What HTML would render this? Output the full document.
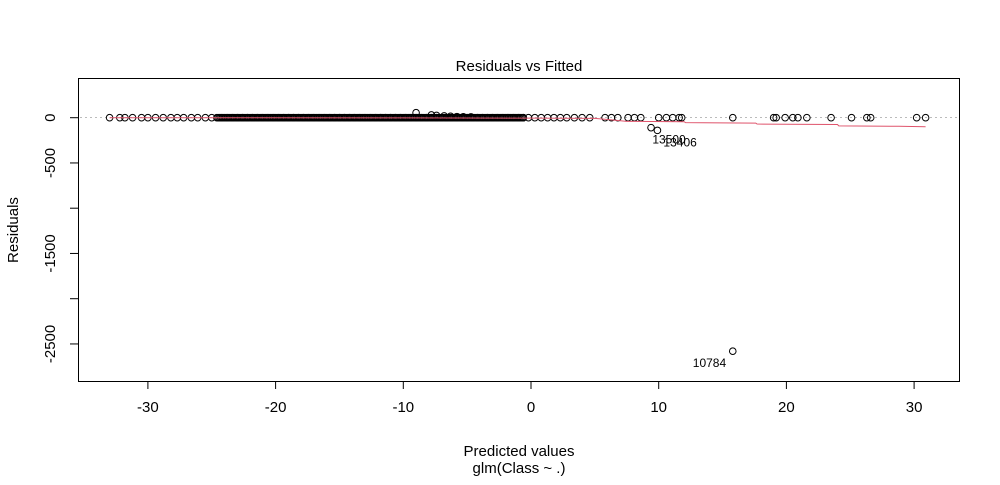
<!DOCTYPE html>
<html><head><meta charset="utf-8"><style>
body{margin:0;background:#fff}
svg text{font-family:"Liberation Sans",Arial,sans-serif;fill:#000}
</style></head><body>
<svg id="chart" width="1000" height="480" viewBox="0 0 1000 480" xmlns="http://www.w3.org/2000/svg">
<rect width="1000" height="480" fill="#fff"/>
<text x="519" y="71" font-size="15" text-anchor="middle">Residuals vs Fitted</text>
<line x1="80" y1="117.5" x2="960" y2="117.5" stroke="#bbb" stroke-dasharray="2,3"/>
<g id="pts"></g>
<g id="smooth"></g>
<g id="labs"></g>
<rect x="78.5" y="78.5" width="881" height="303" fill="none" stroke="#000"/>
<g id="xaxis"></g>
<g id="yaxis"></g>
<text x="519" y="456" font-size="15" text-anchor="middle">Predicted values</text>
<text x="519" y="473" font-size="15" text-anchor="middle">glm(Class ~ .)</text>
<text x="0" y="0" font-size="15" text-anchor="middle" transform="translate(18,230) rotate(-90)">Residuals</text>
</svg>
<script>
const fittedX = [-33,-32.2,-31.8,-31.2,-30.5,-30,-29.4,-28.8,-28.2,-27.7,-27.2,-26.6,-26.1,-25.5,-25,-24.6,-24.2,-23.8,-23.4,-23,-22.6,-22.2,-21.8,-21.4,-21,-20.6,-20.2,-19.8,-19.4,-19,-18.6,-18.2,-17.8,-17.4,-17,-16.6,-16.2,-15.8,-15.4,-15,-14.6,-14.2,-13.8,-13.4,-13,-12.6,-12.2,-11.8,-11.4,-11,-10.6,-10.2,-9.8,-9.4,-9,-8.6,-8.2,-7.8,-7.4,-7,-6.6,-6.2,-5.8,-5.4,-5,-4.6,-4.2,-3.8,-3.4,-3,-2.6,-2.2,-1.8,-1.4,-1,-0.6,-0.2,0.3,0.8,1.3,1.8,2.3,2.8,3.4,4,4.6,5.8,6.3,6.8,7.6,8.1,8.6,10,10.6,11.1,11.6,11.8,15.8,19,19.2,19.9,20.5,20.9,21.6,23.5,25.1,26.3,26.6,30.2,30.9,-9,-7.8,-7.4,-6.8,-6.3,-5.8,-5.3,-4.7,9.4,9.9,15.8];
const residY = [0,0,0,0,0,0,0,0,0,0,0,0,0,0,0,0,0,0,0,0,0,0,0,0,0,0,0,0,0,0,0,0,0,0,0,0,0,0,0,0,0,0,0,0,0,0,0,0,0,0,0,0,0,0,0,0,0,0,0,0,0,0,0,0,0,0,0,0,0,0,0,0,0,0,0,0,0,0,0,0,0,0,0,0,0,0,0,0,0,0,0,0,0,0,0,0,0,0,0,0,0,0,0,0,0,0,0,0,0,0,55,30,25,20,15,12,10,8,-110,-140,-2580];
const smoothX = [-33,-10,0,5,6,7.5,12,12.1,17.6,17.7,24,24.1,28.8,30.9];
const smoothY = [0,-2,-5,-8,-20,-40,-45,-55,-60,-70,-75,-90,-95,-100];
const labelText = ["13500","13406","10784"];
const labelX = [9.5,9.9,15.8];
const labelY = [-110,-140,-2580];
const xTicks = [-30,-20,-10,0,10,20,30];
const yTicks = [0,-500,-1000,-1500,-2000,-2500];
const yLabels = ["0","-500","","-1500","","-2500"];

const sx = v => 531 + v*12.77;
const sy = v => 117.7 - v*0.0905;
const NS = "http://www.w3.org/2000/svg";
function mk(tag, parent, attrs){const e=document.createElementNS(NS,tag);for(const k in attrs)e.setAttribute(k,attrs[k]);parent.appendChild(e);return e;}

const pts=document.getElementById('pts');
fittedX.forEach((x,i)=>{
  const c=mk('circle',pts,{cx:sx(x),cy:sy(residY[i]),r:3.3,fill:'none',stroke:'#000','stroke-width':1});
  
  
});
for(let x=-24.5;x<=-0.5;x+=0.1){
  const c=mk('circle',pts,{cx:sx(x),cy:sy(0),r:3.3,fill:'none',stroke:'#000','stroke-width':1});
  
  
}
const sm=document.getElementById('smooth');
const pl=mk('polyline',sm,{points:smoothX.map((x,i)=>sx(x)+','+sy(smoothY[i])).join(' '),fill:'none',stroke:'#DF536B','stroke-width':1});



const labs=document.getElementById('labs');
labelText.forEach((t,i)=>{
  const dx = i===2 ? -40 : (i===0? 0 : 6);
  const e=mk('text',labs,{x:sx(labelX[i])+dx,y:sy(labelY[i])+16,'font-size':12});
  e.textContent=t;
  
  
});

const xa=document.getElementById('xaxis');
mk('line',xa,{x1:sx(-30),y1:381.5,x2:sx(30),y2:381.5,stroke:'#000'});
xTicks.forEach(t=>{
  mk('line',xa,{x1:sx(t),y1:381.5,x2:sx(t),y2:389,stroke:'#000'});
  const e=mk('text',xa,{x:sx(t),y:412,'font-size':15,'text-anchor':'middle'});
  e.textContent=t;
  
  
});
const ya=document.getElementById('yaxis');
mk('line',ya,{x1:78.5,y1:sy(0),x2:78.5,y2:sy(-2500),stroke:'#000'});
yTicks.forEach((t,i)=>{
  mk('line',ya,{x1:70,y1:sy(t),x2:78.5,y2:sy(t),stroke:'#000'});
  if(yLabels[i]){
    const e=mk('text',ya,{x:0,y:0,'font-size':15,'text-anchor':'middle',transform:`translate(55,${sy(t)}) rotate(-90)`});
    e.textContent=yLabels[i];
    
    
  }
});
</script>
</body></html>
